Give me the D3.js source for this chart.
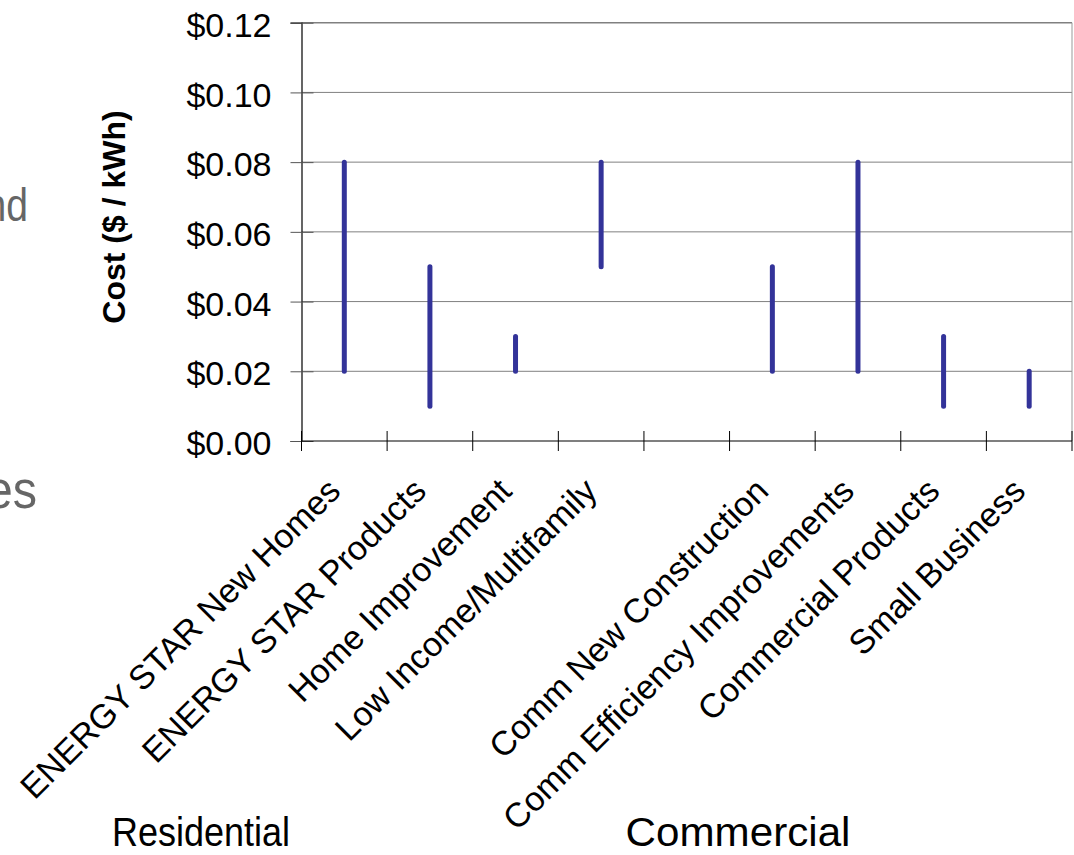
<!DOCTYPE html>
<html>
<head>
<meta charset="utf-8">
<script src="https://cdn.jsdelivr.net/npm/d3@7"></script>
<style>
  html, body { margin: 0; padding: 0; background: #fff; }
  svg { display: block; }
  text { font-family: "Liberation Sans", Arial, Helvetica, sans-serif; }
</style>
</head>
<body>
<svg id="chart" width="1074" height="855"></svg>
<script>
// Program categories (blank slot separates residential from commercial)
const categories = [
  "ENERGY STAR New Homes",
  "ENERGY STAR Products",
  "Home Improvement",
  "Low Income/Multifamily",
  "",
  "Comm New Construction",
  "Comm Efficiency Improvements",
  "Commercial Products",
  "Small Business"
];
// Cost range per program, $ / kWh
const lowCost  = [0.02, 0.01, 0.02, 0.05, null, 0.02, 0.02, 0.01, 0.01];
const highCost = [0.08, 0.05, 0.03, 0.08, null, 0.05, 0.08, 0.03, 0.02];
const yTicks = [0, 0.02, 0.04, 0.06, 0.08, 0.10, 0.12];
const sectorLabels = ["Residential", "Commercial"];
const slideFragments = ["nd", "es"];

const svg = d3.select("#chart");

const plot = { left: 301.5, right: 1072, top: 22.7, bottom: 441 };

const x = d3.scaleBand()
  .domain(d3.range(categories.length))
  .range([plot.left, plot.right])
  .padding(0);

const y = d3.scaleLinear()
  .domain([0, 0.12])
  .range([plot.bottom, plot.top]);

// Leftover slide text at the left edge
svg.append("text")
  .attr("transform", "translate(28,221) scale(0.85,1)")
  .attr("text-anchor", "end")
  .attr("fill", "#666")
  .style("font-size", "46px")
  .text(slideFragments[0]);
svg.append("text")
  .attr("transform", "translate(37,508) scale(0.9,1)")
  .attr("text-anchor", "end")
  .attr("fill", "#666")
  .style("font-size", "54px")
  .text(slideFragments[1]);

// Horizontal gridlines
svg.append("g")
  .selectAll("line")
  .data(yTicks.slice(1))
  .join("line")
  .attr("x1", plot.left).attr("x2", plot.right)
  .attr("y1", d => y(d)).attr("y2", d => y(d))
  .attr("stroke", "#808080")
  .attr("stroke-width", (d, i, n) => i === n.length - 1 ? 1.5 : 1);

// Right edge of plot area
svg.append("line")
  .attr("x1", plot.right).attr("x2", plot.right)
  .attr("y1", y(0.12)).attr("y2", y(0))
  .attr("stroke", "#999").attr("stroke-width", 1);

// Y axis
const yAxis = svg.append("g")
  .attr("transform", `translate(${plot.left},0)`)
  .call(d3.axisLeft(y).tickValues(yTicks).tickFormat(d3.format("$.2f")).tickSize(11).tickPadding(19));
yAxis.select(".domain").attr("stroke", "#000").attr("stroke-width", 1.2);
yAxis.selectAll(".tick line").attr("x1", 12).attr("x2", -11).attr("stroke", "#555");
yAxis.selectAll(".tick text")
  .attr("fill", "#000")
  .attr("dy", "0.4em")
  .style("font-size", "34px")
  .style("font-family", "'Liberation Sans', Arial, sans-serif");

// X axis with tick marks on category boundaries
const xAxis = svg.append("g");
xAxis.append("line")
  .attr("x1", plot.left).attr("x2", plot.right)
  .attr("y1", y(0)).attr("y2", y(0))
  .attr("stroke", "#000").attr("stroke-width", 1.2);
const boundaries = d3.range(categories.length + 1).map(i =>
  i < categories.length ? x(i) : x.range()[1]);
xAxis.selectAll("line.tick")
  .data(boundaries)
  .join("line")
  .attr("class", "tick")
  .attr("x1", d => d).attr("x2", d => d)
  .attr("y1", y(0) - 10).attr("y2", y(0) + 10)
  .attr("stroke", "#000").attr("stroke-width", 1);

// Category labels, rotated
svg.append("g")
  .selectAll("text")
  .data(categories.map((c, i) => ({ c, i })).filter(d => d.c))
  .join("text")
  .attr("transform", d => `translate(${x(d.i) + x.bandwidth() / 2 - 2},493) rotate(-45)`)
  .attr("text-anchor", "end")
  .attr("fill", "#000")
  .style("font-size", "34px")
  .text(d => d.c);

// Cost range bars
svg.append("g")
  .selectAll("line")
  .data(categories.map((c, i) => ({ i, lo: lowCost[i], hi: highCost[i] })).filter(d => d.lo != null))
  .join("line")
  .attr("x1", d => x(d.i) + x.bandwidth() / 2)
  .attr("x2", d => x(d.i) + x.bandwidth() / 2)
  .attr("y1", d => y(d.lo)).attr("y2", d => y(d.hi))
  .attr("stroke", "#333399")
  .attr("stroke-width", 5)
  .attr("stroke-linecap", "round");

// Y axis title
svg.append("text")
  .attr("transform", "translate(125,217) rotate(-90)")
  .attr("text-anchor", "middle")
  .attr("fill", "#000")
  .style("font-size", "32px")
  .style("font-weight", "bold")
  .text("Cost ($ / kWh)");

// Sector labels
const sectorX = [201, 738];
const sectorWidth = [178, 225];
svg.append("g")
  .selectAll("text")
  .data(sectorLabels)
  .join("text")
  .attr("x", (d, i) => sectorX[i])
  .attr("y", 846)
  .attr("text-anchor", "middle")
  .attr("fill", "#000")
  .attr("textLength", (d, i) => sectorWidth[i])
  .attr("lengthAdjust", "spacingAndGlyphs")
  .style("font-size", "41px")
  .text(d => d);
</script>
</body>
</html>
